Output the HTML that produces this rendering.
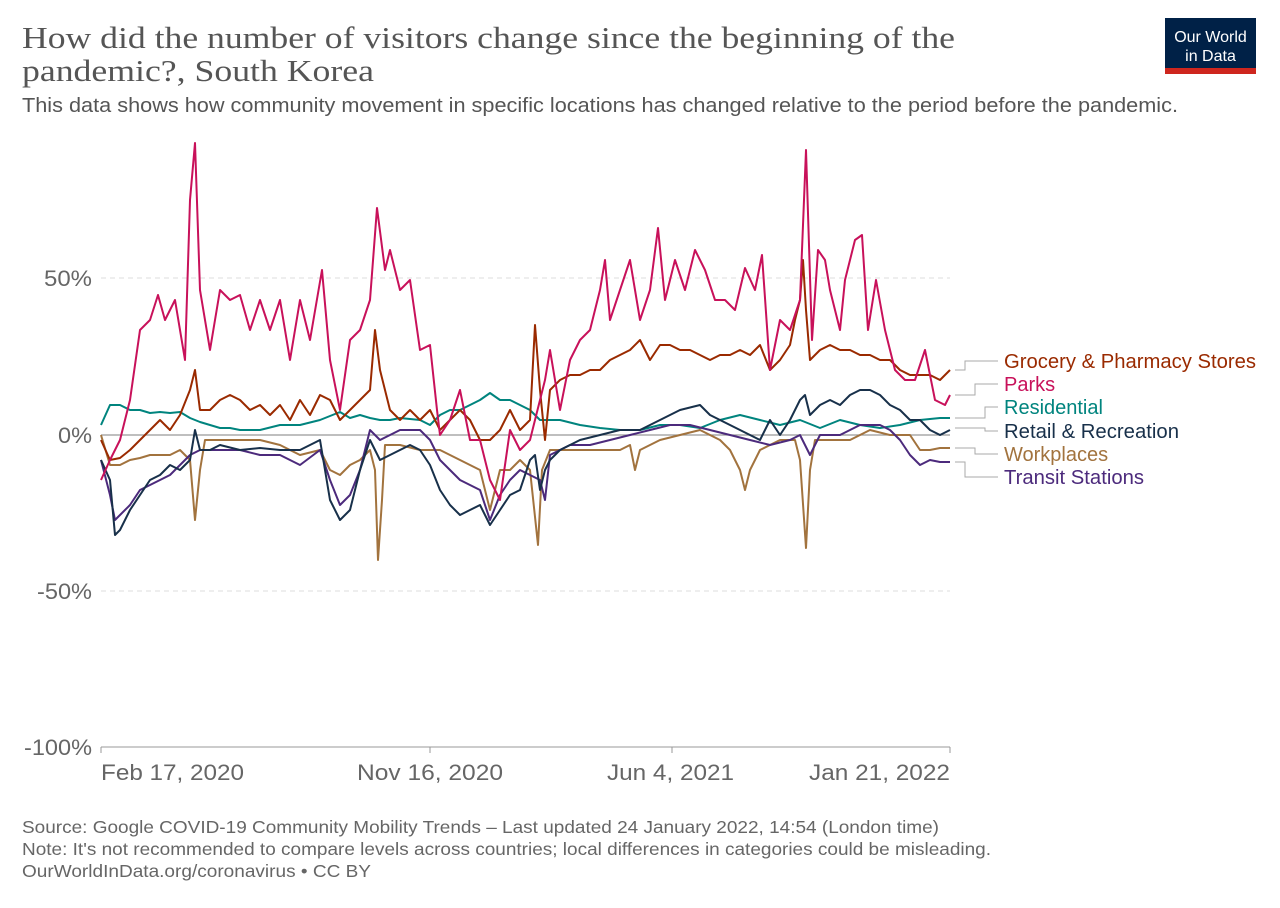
<!DOCTYPE html>
<html><head><meta charset="utf-8"><style>
body{margin:0;background:#fff;width:1280px;height:903px;overflow:hidden;font-family:"Liberation Sans",sans-serif}
</style></head><body>
<svg width="1280" height="903" xmlns="http://www.w3.org/2000/svg" font-family="Liberation Sans, sans-serif">
<text x="22" y="48" font-family="Liberation Serif, serif" font-size="31" fill="#555" textLength="933" lengthAdjust="spacingAndGlyphs">How did the number of visitors change since the beginning of the</text>
<text x="22" y="81" font-family="Liberation Serif, serif" font-size="31" fill="#555" textLength="352" lengthAdjust="spacingAndGlyphs">pandemic?, South Korea</text>
<text x="22" y="112" font-size="20" fill="#555" textLength="1156" lengthAdjust="spacingAndGlyphs">This data shows how community movement in specific locations has changed relative to the period before the pandemic.</text>
<rect x="1165" y="18" width="91" height="56" fill="#002147"/>
<rect x="1165" y="68" width="91" height="6" fill="#ce261e"/>
<text x="1210.5" y="42" font-size="16" fill="#fff" text-anchor="middle">Our World</text>
<text x="1210.5" y="61" font-size="16" fill="#fff" text-anchor="middle">in Data</text>
<g stroke="#ddd" stroke-dasharray="5,4" stroke-width="1">
<line x1="101" y1="278" x2="950" y2="278"/><line x1="101" y1="591" x2="950" y2="591"/>
</g>
<line x1="101" y1="435" x2="950" y2="435" stroke="#999" stroke-width="1.2"/>
<line x1="101" y1="747" x2="950" y2="747" stroke="#999"/>
<g stroke="#999"><line x1="101" y1="747" x2="101" y2="753"/><line x1="430" y1="747" x2="430" y2="753"/><line x1="672" y1="747" x2="672" y2="753"/><line x1="950" y1="747" x2="950" y2="753"/></g>
<g font-size="22" fill="#666" text-anchor="end">
<text x="92" y="286" textLength="48" lengthAdjust="spacingAndGlyphs">50%</text><text x="92" y="443" textLength="34" lengthAdjust="spacingAndGlyphs">0%</text><text x="92" y="599" textLength="55" lengthAdjust="spacingAndGlyphs">-50%</text><text x="92" y="755" textLength="68" lengthAdjust="spacingAndGlyphs">-100%</text>
</g>
<g font-size="22" fill="#666">
<text x="101" y="780" textLength="143" lengthAdjust="spacingAndGlyphs">Feb 17, 2020</text><text x="357" y="780" textLength="146" lengthAdjust="spacingAndGlyphs">Nov 16, 2020</text><text x="607" y="780" textLength="127" lengthAdjust="spacingAndGlyphs">Jun 4, 2021</text><text x="809" y="780" textLength="141" lengthAdjust="spacingAndGlyphs">Jan 21, 2022</text>
</g>
<g fill="none" stroke-width="2" stroke-linejoin="round">
<polyline stroke="#00847e" points="101,425 110,405 120,405 130,410 140,410 150,413 160,412 170,413 180,412 190,418 200,422 210,425 220,428 230,428 240,430 250,430 260,430 280,425 300,425 320,420 340,412 350,418 360,415 370,418 380,420 390,420 400,418 420,420 430,425 440,415 450,410 460,410 470,405 480,400 490,393 500,400 510,400 520,405 530,410 540,420 560,420 580,425 600,428 620,430 640,430 660,425 680,425 700,428 720,420 740,415 760,420 780,425 800,420 820,428 840,420 860,425 880,428 900,425 920,420 940,418 950,418"/>
<polyline stroke="#a2733e" points="101,435 110,465 120,465 130,460 140,458 150,455 160,455 170,455 180,450 190,460 195,520 200,470 205,440 210,440 220,440 240,440 260,440 280,445 300,455 320,450 330,470 340,475 350,465 360,460 370,450 375,470 378,560 382,500 385,445 400,445 420,450 440,450 460,460 480,470 490,510 500,470 510,470 520,460 530,470 538,545 542,470 550,450 570,450 600,450 620,450 630,445 635,470 640,450 660,440 680,435 700,430 720,440 730,450 740,470 745,490 750,470 760,450 780,440 795,440 800,460 806,548 810,470 815,440 830,440 850,440 870,430 890,435 910,435 920,450 930,450 940,448 950,448"/>
<polyline stroke="#4c2a7c" points="101,460 110,495 115,520 120,515 130,505 140,490 150,485 160,480 170,475 180,465 190,455 200,450 220,450 240,450 260,455 280,455 300,465 320,450 330,480 340,505 350,495 360,470 370,430 380,440 390,435 400,430 420,430 430,440 440,460 460,480 480,490 490,520 500,495 510,480 520,470 540,480 545,500 550,455 570,445 590,445 610,440 630,435 650,430 670,425 690,425 710,430 730,435 750,440 770,445 790,440 800,435 810,455 820,435 840,435 860,425 880,425 890,430 900,440 910,455 920,465 930,460 940,462 950,462"/>
<polyline stroke="#18304a" points="101,460 110,480 115,535 120,530 130,510 140,495 150,480 160,475 170,465 180,470 190,460 195,430 200,450 210,450 220,445 240,450 260,448 280,450 300,450 320,440 330,500 340,520 350,510 360,470 370,440 380,460 390,455 400,450 410,445 420,450 430,465 440,490 450,505 460,515 470,510 480,505 490,525 500,510 510,495 520,490 530,460 535,455 540,490 545,470 550,460 560,450 570,445 580,440 600,435 620,430 640,430 660,420 680,410 700,405 710,415 720,420 740,430 760,440 770,420 780,435 790,420 800,400 805,395 810,415 820,405 830,400 840,405 850,395 860,390 870,390 880,395 890,405 900,410 910,420 920,420 930,430 940,435 950,430"/>
<polyline stroke="#9a2a00" points="101,440 110,460 120,458 130,450 140,440 150,430 160,420 170,430 180,415 190,390 195,370 200,410 210,410 220,400 230,395 240,400 250,410 260,405 270,415 280,405 290,420 300,400 310,415 320,395 330,400 340,420 350,410 360,400 370,390 375,330 380,370 390,410 400,420 410,410 420,420 430,410 440,430 450,420 460,410 470,420 480,440 490,440 500,430 510,410 520,430 530,420 535,325 540,390 545,440 550,390 560,380 570,375 580,375 590,370 600,370 610,360 620,355 630,350 640,340 650,360 660,345 670,345 680,350 690,350 700,355 710,360 720,355 730,355 740,350 750,355 760,345 770,370 780,360 790,345 795,320 800,300 803,260 806,310 810,360 820,350 830,345 840,350 850,350 860,355 870,355 880,360 890,360 900,370 910,375 920,375 930,375 940,380 950,370"/>
<polyline stroke="#c8115a" points="101,480 110,460 120,440 130,400 140,330 150,320 158,295 165,320 175,300 185,360 190,200 195,143 200,290 210,350 220,290 230,300 240,295 250,330 260,300 270,330 280,300 290,360 300,300 310,340 322,270 330,360 340,410 350,340 360,330 370,300 377,208 385,270 390,250 400,290 410,280 420,350 430,345 437,410 440,435 450,420 460,390 470,440 480,440 490,480 500,500 510,430 520,450 530,440 540,400 545,380 550,350 560,410 570,360 580,340 590,330 600,290 605,260 610,320 620,290 630,260 640,320 650,290 658,228 665,300 675,260 685,290 695,250 705,270 715,300 725,300 735,310 745,268 755,290 762,255 770,370 780,320 790,330 800,300 806,150 812,340 818,250 825,260 830,290 840,330 845,280 855,240 862,235 868,330 876,280 885,330 895,370 905,380 915,380 925,350 935,400 945,405 950,395"/>
</g>
<g fill="none" stroke="#aaa" stroke-width="1">
<polyline points="955,370 965,370 965,361 998,361"/>
<polyline points="955,395 975,395 975,384 998,384"/>
<polyline points="955,418 985,418 985,407 998,407"/>
<polyline points="955,428 985,428 985,431 998,431"/>
<polyline points="955,448 975,448 975,454 998,454"/>
<polyline points="955,462 965,462 965,477 998,477"/>
</g>
<g font-size="20">
<text x="1004" y="368" fill="#9a2a00" textLength="252" lengthAdjust="spacingAndGlyphs">Grocery &amp; Pharmacy Stores</text>
<text x="1004" y="391" fill="#c8115a">Parks</text>
<text x="1004" y="414" fill="#00847e">Residential</text>
<text x="1004" y="438" fill="#18304a" textLength="175" lengthAdjust="spacingAndGlyphs">Retail &amp; Recreation</text>
<text x="1004" y="461" fill="#a2733e">Workplaces</text>
<text x="1004" y="484" fill="#4c2a7c" textLength="140" lengthAdjust="spacingAndGlyphs">Transit Stations</text>
</g>
<g font-size="17.5" fill="#666">
<text x="22" y="833" textLength="917" lengthAdjust="spacingAndGlyphs">Source: Google COVID-19 Community Mobility Trends – Last updated 24 January 2022, 14:54 (London time)</text>
<text x="22" y="855" textLength="969" lengthAdjust="spacingAndGlyphs">Note: It's not recommended to compare levels across countries; local differences in categories could be misleading.</text>
<text x="22" y="877" textLength="349" lengthAdjust="spacingAndGlyphs">OurWorldInData.org/coronavirus • CC BY</text>
</g>
</svg>
</body></html>
